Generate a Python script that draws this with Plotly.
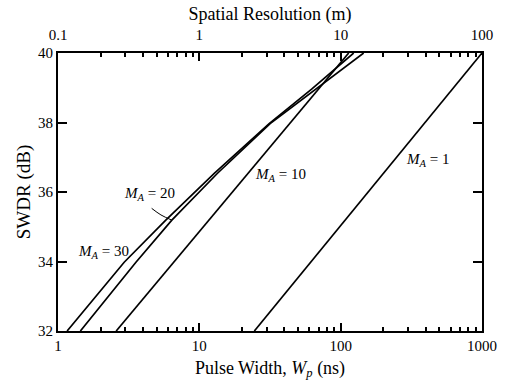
import numpy as np
import plotly.graph_objects as go

# ---- data ----
wp_ma30 = [1.16, 2.94, 5.79, 12.81, 31.2, 62.3, 123.6]
swdr_ma30 = [32.0, 33.98, 35.19, 36.54, 37.97, 38.96, 40.0]

wp_ma20 = [1.44, 3.56, 6.39, 13.45, 31.7, 67.1, 145.4]
swdr_ma20 = [32.0, 33.98, 35.19, 36.54, 37.97, 38.96, 40.0]

wp_ma10 = [2.58, 21.5, 114.0]
swdr_ma10 = [32.0, 36.48, 40.0]

wp_ma1 = [24.5, 1000.0]
swdr_ma1 = [32.0, 40.0]

bottom_ticks = [1, 10, 100, 1000]
bottom_minor = [k * d for d in [1, 10, 100] for k in range(2, 10)]
top_ticks = [0.1, 1, 10, 100]
top_tick_text = ["0.1", "1", "10", "100"]
top_minor = [k * d for d in [0.1, 1, 10] for k in range(2, 10)]
y_ticks = [32, 34, 36, 38, 40]

labels = ["30", "20", "10", "1"]
label_wp = [2.10, 4.47, 37.3, 410.0]
label_db = [34.26, 35.93, 36.49, 36.91]

leader_wp = [4.60, 5.35, 6.39]
leader_db = [35.53, 35.34, 35.19]

FONT = "Liberation Serif"
BLACK = "black"

fig = go.Figure()
for xs, ys in [(wp_ma30, swdr_ma30), (wp_ma20, swdr_ma20),
               (wp_ma10, swdr_ma10), (wp_ma1, swdr_ma1)]:
    fig.add_trace(go.Scatter(x=xs, y=ys, mode="lines",
                             line=dict(color=BLACK, width=1.7),
                             showlegend=False, hoverinfo="skip"))

fig.add_trace(go.Scatter(x=leader_wp, y=leader_db, mode="lines",
                         line=dict(color=BLACK, width=1.0, shape="spline"),
                         showlegend=False, hoverinfo="skip"))

# invisible trace to activate top axis
fig.add_trace(go.Scatter(x=[top_ticks[0], top_ticks[-1]], y=[y_ticks[0], y_ticks[0]],
                         xaxis="x2", mode="markers", marker=dict(opacity=0),
                         showlegend=False, hoverinfo="skip"))

for t, xw, yd in zip(labels, label_wp, label_db):
    fig.add_annotation(x=np.log10(xw), y=yd, xref="x", yref="y",
                       text=f"<i>M</i><sub><i>A</i></sub> = {t}", showarrow=False,
                       font=dict(family=FONT, size=15, color=BLACK))

axis_common = dict(showline=True, linecolor=BLACK, linewidth=2, ticks="inside",
                   tickcolor=BLACK, tickwidth=1.5, showgrid=False, zeroline=False,
                   tickfont=dict(family=FONT, size=15, color=BLACK))

fig.update_layout(
    width=509, height=389,
    margin=dict(l=57.5, r=25, t=44, b=58),
    paper_bgcolor="white", plot_bgcolor="white",
    xaxis=dict(type="log", range=[np.log10(bottom_ticks[0]), np.log10(bottom_ticks[-1])],
               tickmode="array", tickvals=bottom_ticks, ticktext=[str(v) for v in bottom_ticks],
               ticklen=8,
               minor=dict(tickmode="array", tickvals=bottom_minor, ticks="inside", ticklen=4,
                          tickcolor=BLACK, tickwidth=1.5, showgrid=False),
               title=dict(text="Pulse Width, <i>W</i><sub><i>p</i></sub> (ns)", standoff=8,
                          font=dict(family=FONT, size=18, color=BLACK)),
               **axis_common),
    xaxis2=dict(type="log", overlaying="x", side="top",
                range=[np.log10(top_ticks[0]), np.log10(top_ticks[-1])],
                tickmode="array", tickvals=top_ticks, ticktext=top_tick_text, ticklen=8,
                ticklabelstandoff=5,
                minor=dict(tickmode="array", tickvals=top_minor, ticks="inside", ticklen=4,
                           tickcolor=BLACK, tickwidth=1.5, showgrid=False),
                title=dict(text="Spatial Resolution (m)", standoff=2,
                           font=dict(family=FONT, size=18, color=BLACK)),
                **axis_common),
    yaxis=dict(range=[y_ticks[0], y_ticks[-1]], tickmode="array", tickvals=y_ticks,
               ticklen=9, mirror="ticks",
               title=dict(text="SWDR (dB)", standoff=2,
                          font=dict(family=FONT, size=19, color=BLACK)),
               **axis_common),
)

fig.write_html("out.html")
